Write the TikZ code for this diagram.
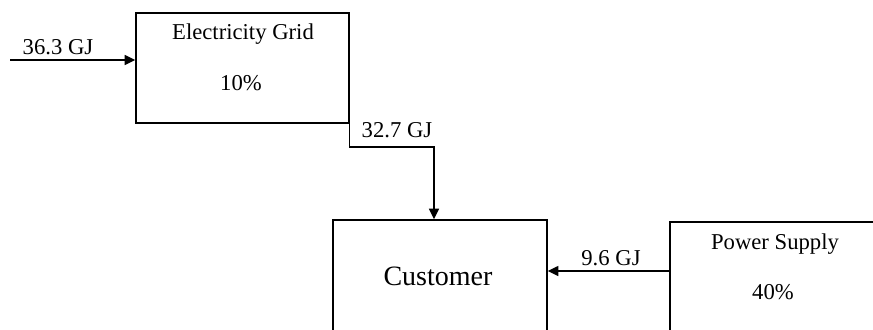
\documentclass[tikz,border=0pt]{standalone}
\usepackage{fontspec}
\setmainfont{Liberation Serif}
\usetikzlibrary{arrows.meta}

\tikzset{every picture/.style={line width=1.1pt}}

\begin{document}
\begin{tikzpicture}[x=0.75pt,y=0.75pt,yscale=-1,xscale=1,
  block/.style={draw, rectangle, inner sep=0pt},
  lbl/.style={font=\fontsize{17}{20}\selectfont, inner sep=1pt},
  flow/.style={-{Triangle[length=8pt,width=7.5pt]}}]
%set diagram size to 873 x 329
\useasboundingbox (0,0) rectangle (873,329);
\clip (0,0) rectangle (873,329);

\node [block, minimum width=159.75pt, minimum height=82.5pt] (grid) at (242.5,68) {};
\node [block, minimum width=160.5pt, minimum height=93.75pt] (cust) at (440,282.5) {};
\node [block, minimum width=165pt, minimum height=92.25pt] (ps) at (780,283.5) {};

\node [lbl] (gridname) at (243,34) {Electricity Grid};
\node [lbl] (gridpct) at (241,83) {10\%};
\node [font=\fontsize{21}{25}\selectfont] (custname) at (438,276) {Customer};
\node [lbl] (psname) at (775,244) {Power Supply};
\node [lbl] (pspct) at (773,292) {40\%};

\coordinate (in) at (10,60);
\coordinate (bend) at (434,147);
\coordinate (feed) at (670,271);

\draw [flow] (in) -- (in -| grid.west);
\draw [flow] (grid.south east) |- (bend) -- (bend |- cust.north);
\draw [flow] (feed) -- (feed -| cust.east);

\node [lbl] (ingj) at (58,47) {36.3 GJ};
\node [lbl] (outgj) at (397,130) {32.7 GJ};
\node [lbl] (feedgj) at (611,258) {9.6 GJ};

\end{tikzpicture}
\end{document}
